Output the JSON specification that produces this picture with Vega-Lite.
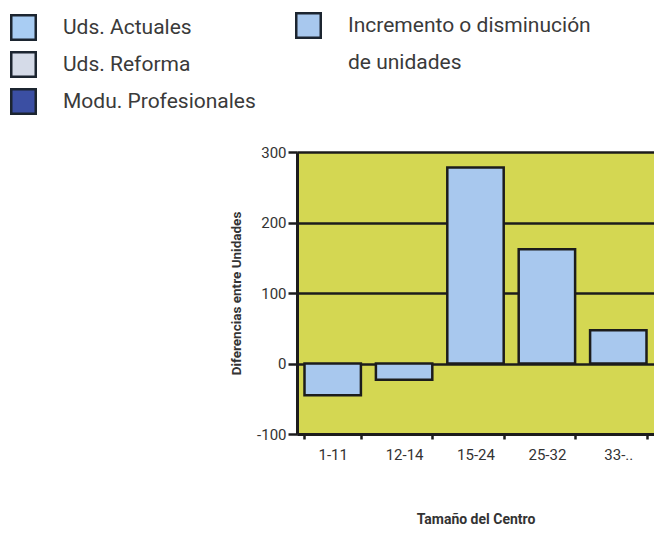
{
  "$schema": "https://vega.github.io/schema/vega-lite/v6.json",
  "width": 357,
  "height": 282,
  "autosize": {"type": "none"},
  "padding": {"left": 297, "top": 152, "right": 0, "bottom": 100},
  "background": "white",
  "config": {
    "font": "Roboto",
    "view": {"fill": "#d4d752", "stroke": null}
  },
  "layer": [
    {
      "data": {
        "values": [
          {"tamano": "1-11", "diferencia": -45, "serie": "Incremento o disminución de unidades"},
          {"tamano": "12-14", "diferencia": -23, "serie": "Incremento o disminución de unidades"},
          {"tamano": "15-24", "diferencia": 278, "serie": "Incremento o disminución de unidades"},
          {"tamano": "25-32", "diferencia": 162, "serie": "Incremento o disminución de unidades"},
          {"tamano": "33-..", "diferencia": 47, "serie": "Incremento o disminución de unidades"}
        ]
      },
      "mark": {"type": "bar", "stroke": "#1c1c1c", "strokeWidth": 2.5},
      "encoding": {
        "x": {
          "field": "tamano",
          "type": "nominal",
          "sort": null,
          "scale": {"domain": ["1-11", "12-14", "15-24", "25-32", "33-.."], "paddingInner": 0.21, "paddingOuter": 0.105},
          "axis": {
            "title": "Tamaño del Centro",
            "titleFont": "Roboto",
            "titleFontSize": 14,
            "titleFontWeight": "bold",
            "titleColor": "#333333",
            "titlePadding": 50,
            "labelFont": "Roboto",
            "labelAngle": 0,
            "labelFontSize": 15,
            "labelColor": "#333333",
            "labelPadding": 8,
            "tickBand": "extent",
            "tickSize": 5,
            "tickWidth": 2.5,
            "tickColor": "#1c1c1c",
            "domainColor": "#1c1c1c",
            "domainWidth": 3,
            "grid": false
          }
        },
        "y": {
          "field": "diferencia",
          "type": "quantitative",
          "scale": {"domain": [-100, 300], "nice": false, "zero": false},
          "axis": {
            "title": "Diferencias entre Unidades",
            "titleFont": "Roboto",
            "titleFontSize": 13.5,
            "titleFontWeight": "bold",
            "titleColor": "#333333",
            "titlePadding": 13,
            "values": [-100, 0, 100, 200, 300],
            "labelExpr": "'' + datum.value",
            "labelFont": "Roboto",
            "labelFontSize": 15,
            "labelColor": "#333333",
            "labelPadding": 2,
            "tickSize": 9,
            "tickWidth": 2.5,
            "tickColor": "#1c1c1c",
            "domainColor": "#1c1c1c",
            "domainWidth": 3,
            "grid": true,
            "gridColor": "#1c1c1c",
            "gridWidth": 2.5,
            "gridOpacity": 1
          }
        },
        "fill": {
          "field": "serie",
          "type": "nominal",
          "scale": {"domain": ["Incremento o disminución de unidades"], "range": ["#a8c8ee"]},
          "legend": {
            "orient": "none",
            "legendX": -2,
            "legendY": -140,
            "title": null,
            "padding": 0,
            "symbolType": "square",
            "symbolSize": 600,
            "symbolStrokeColor": "#1c2530",
            "symbolStrokeWidth": 2.5,
            "labelFont": "Roboto",
            "labelFontSize": 21,
            "labelColor": "#3a3a3a",
            "labelOffset": 26,
            "labelLimit": 400,
            "labelExpr": "['Incremento o disminución', 'de unidades']",
            "encode": {"labels": {"update": {"lineHeight": {"value": 37}}}}
          }
        }
      }
    },
    {
      "data": {
        "values": [
          {"tamano": null, "diferencia": null, "serie": "Uds. Actuales"},
          {"tamano": null, "diferencia": null, "serie": "Uds. Reforma"},
          {"tamano": null, "diferencia": null, "serie": "Modu. Profesionales"}
        ]
      },
      "mark": {"type": "bar"},
      "encoding": {
        "x": {"field": "tamano", "type": "nominal", "sort": null},
        "y": {"field": "diferencia", "type": "quantitative"},
        "fill": {
          "field": "serie",
          "type": "nominal",
          "scale": {"domain": ["Uds. Actuales", "Uds. Reforma", "Modu. Profesionales"], "range": ["#a9cdf3", "#d5dbe8", "#3b4fa3"]},
          "legend": {
            "orient": "none",
            "legendX": -287,
            "legendY": -138,
            "title": null,
            "padding": 0,
            "symbolType": "square",
            "symbolSize": 600,
            "symbolStrokeColor": "#1c2530",
            "symbolStrokeWidth": 2.5,
            "labelFont": "Roboto",
            "labelFontSize": 21,
            "labelColor": "#3a3a3a",
            "labelOffset": 26,
            "labelLimit": 400,
            "rowPadding": 2
          }
        }
      }
    }
  ],
  "resolve": {"scale": {"fill": "independent"}, "legend": {"fill": "independent"}}
}
